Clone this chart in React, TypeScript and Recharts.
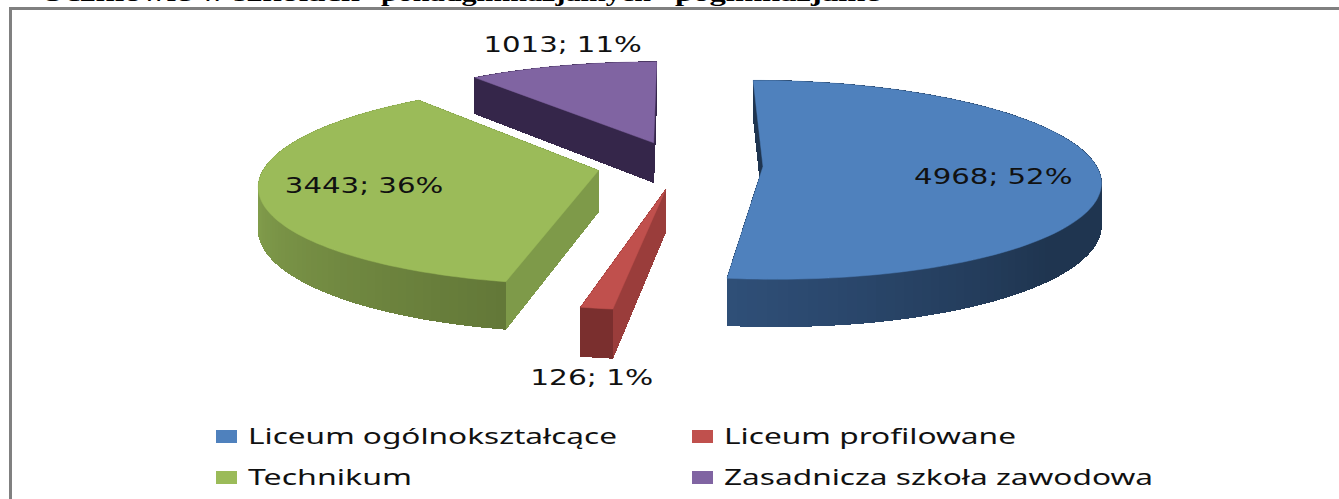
import { PieChart, Pie, Legend } from "recharts";

const categories = [
  "Liceum ogólnokształcące",
  "Liceum profilowane",
  "Technikum",
  "Zasadnicza szkoła zawodowa",
];
const counts = [4968, 126, 3443, 1013];

const titleWords = ["Uczniowie w szkołach", "ponadgimnazjalnych", "pogimnazjalne"];
const titleX = [40, 381, 675];
const titleWidths = [320, 270, 205];

const topColors = ["#4f81bd", "#c0504d", "#9bbb59", "#8064a2"];
const radialColors = ["#1f3550", "#9a3d3b", "#7e9a49", "#35264a"];
const sideFrom = ["#1f3550", "#7a2f2e", "#637838", "#35264a"];
const sideTo = ["#2f4f78", "#7a2f2e", "#84a04d", "#35264a"];
const rampStart = [0.7, 0, 0, 0];
const rampEnd = [1, 1, 0.55, 1];

const labelRadius = [0.68, 1.43, 0.7, 1.25];
const labelShiftX = [2, 32, 1, 20];
const labelShiftY = [13, 13, 6, 3];

const chartData = categories.map((name, i) => ({ name, value: counts[i], fill: topColors[i] }));

const EXPLODE = 83;
const DEPTH = 41;
const TILT = 0.292;
const CAMERA = 2500;

type Pt = { x: number; y: number };

// plane coords (py grows toward the viewer) -> screen
function project(cx: number, cy: number, px: number, py: number, z = 0): Pt {
  const p = CAMERA / (CAMERA - py);
  return { x: cx + px * p, y: cy + py * TILT * p + z * p };
}

function toPlane(angle: number, r: number) {
  // angle is clockwise from 12 o'clock
  const a = (angle * Math.PI) / 180;
  return { px: Math.sin(a) * r, py: -Math.cos(a) * r };
}

function mix(a: string, b: string, t: number) {
  const ch = (s: string, i: number) => parseInt(s.slice(1 + i * 2, 3 + i * 2), 16);
  const k = Math.min(1, Math.max(0, t));
  const out = [0, 1, 2].map((i) => Math.round(ch(a, i) + (ch(b, i) - ch(a, i)) * k));
  return `rgb(${out.join(",")})`;
}

const pathOf = (pts: Pt[]) =>
  "M" + pts.map((p) => `${p.x.toFixed(1)} ${p.y.toFixed(1)}`).join("L") + "Z";

function Slice3D(props: any) {
  const { cx, cy, outerRadius, startAngle, endAngle, midAngle, index, payload } = props;
  const i = index ?? categories.indexOf(payload?.name);
  const start = 90 - startAngle;
  const end = 90 - endAngle;
  const mid = 90 - midAngle;
  const off = toPlane(mid, EXPLODE);

  const at = (angle: number, r: number, z = 0) => {
    const q = toPlane(angle, r);
    return project(cx, cy, off.px + q.px, off.py + q.py, z);
  };
  const apex = at(0, 0);
  const apexLow = at(0, 0, DEPTH);

  const steps = Math.max(4, Math.ceil((end - start) / 1.5));
  const angles = Array.from({ length: steps + 1 }, (_, k) => start + ((end - start) * k) / steps);
  const rim = angles.map((a) => at(a, outerRadius));

  const faces: { py: number; d: string; fill: string }[] = [];
  [start, end].forEach((a) => {
    faces.push({
      py: off.py + toPlane(a, outerRadius / 2).py,
      d: pathOf([apex, at(a, outerRadius), at(a, outerRadius, DEPTH), apexLow]),
      fill: radialColors[i],
    });
  });
  for (let k = 0; k < steps; k++) {
    const a = angles[k];
    const b = angles[k + 1];
    const t = ((a + b) / 2 - start) / (end - start);
    const ramp = (t - rampStart[i]) / (rampEnd[i] - rampStart[i]);
    faces.push({
      py: off.py + toPlane((a + b) / 2, outerRadius).py,
      d: pathOf([rim[k], rim[k + 1], at(b, outerRadius, DEPTH), at(a, outerRadius, DEPTH)]),
      fill: mix(sideFrom[i], sideTo[i], ramp),
    });
  }
  faces.sort((u, v) => u.py - v.py);

  return (
    <g>
      {faces.map((f, k) => (
        <path key={k} d={f.d} fill={f.fill} stroke={f.fill} strokeWidth={1} shapeRendering="crispEdges" />
      ))}
      <path d={pathOf([apex, ...rim])} fill={topColors[i]} stroke={topColors[i]} strokeWidth={0.5} />
    </g>
  );
}

function SliceLabel(props: any) {
  const { cx, cy, outerRadius, midAngle, index, value, percent } = props;
  const mid = 90 - midAngle;
  const off = toPlane(mid, EXPLODE);
  const q = toPlane(mid, outerRadius * labelRadius[index]);
  const pos = project(cx, cy, off.px + q.px, off.py + q.py);
  const text = `${value}; ${Math.round(percent * 100)}%`;
  return (
    <text
      x={pos.x + labelShiftX[index]}
      y={pos.y + labelShiftY[index]}
      textAnchor="middle"
      fontFamily="DejaVu Sans"
      fontSize={21}
      fill="#111"
      textLength={text.length * 17.6}
      lengthAdjust="spacingAndGlyphs"
    >
      {text}
    </text>
  );
}

const legendWidths = [369, 292, 164, 429];

function ChartLegend() {
  return (
    <svg width={1000} height={80} style={{ display: "block" }}>
      {categories.map((name, i) => {
        const x = i % 2 === 0 ? 0 : 476;
        const y = i < 2 ? 10 : 51;
        return (
          <g key={name}>
            <rect x={x} y={y} width={21} height={13} fill={topColors[i]} />
            <text
              x={x + 32}
              y={y + 14}
              fontFamily="Noto Sans"
              fontSize={22}
              fill="#111"
              textLength={legendWidths[i]}
              lengthAdjust="spacingAndGlyphs"
            >
              {name}
            </text>
          </g>
        );
      })}
    </svg>
  );
}

export default function App() {
  return (
    <div style={{ position: "fixed", left: 0, top: 0, width: 1339, height: 499, overflow: "hidden", background: "#fff" }}>
      <div style={{ position: "absolute", left: 9, top: 7, right: 0, height: 3, background: "#808080" }} />
      <div style={{ position: "absolute", left: 9, top: 7, bottom: 0, width: 3, background: "#808080" }} />
      <PieChart width={1339} height={499} margin={{ top: 0, right: 0, bottom: 0, left: 0 }} style={{ position: "absolute", left: 0, top: 0 }}>
        {titleWords.map((word, i) => (
          <text
            key={word}
            x={titleX[i]}
            y={1}
            fontFamily="Liberation Serif"
            fontWeight="bold"
            fontSize={24}
            textLength={titleWidths[i]}
            lengthAdjust="spacingAndGlyphs"
          >
            {word}
          </text>
        ))}
        <Pie
          data={chartData}
          dataKey="value"
          nameKey="name"
          cx={680}
          cy={165}
          outerRadius={333}
          startAngle={90}
          endAngle={-270}
          stroke="none"
          shape={Slice3D}
          label={SliceLabel}
          labelLine={false}
          isAnimationActive={false}
        />
        <Legend
          content={<ChartLegend />}
          wrapperStyle={{ position: "absolute", left: 216, top: 420, width: 1000, bottom: "auto" }}
        />
      </PieChart>
    </div>
  );
}
